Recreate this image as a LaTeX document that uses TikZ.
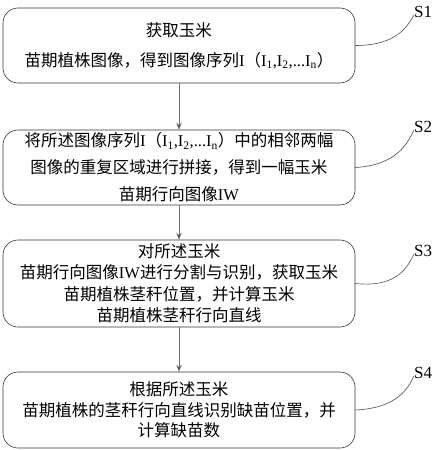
\documentclass[tikz,border=0pt]{standalone}
\usepackage{fontspec}
\setmainfont{Liberation Serif}
\newfontfamily\cjk{Noto Sans CJK SC}
\usetikzlibrary{arrows.meta}
\newcommand\sub[1]{\textsubscript{#1}}
\begin{document}
\begin{tikzpicture}[x=1pt,y=-1pt,
  stepbox/.style={draw=black!80, line width=0.6pt, rounded corners=15pt,
    minimum width=352pt, align=center, inner sep=0pt},
  flow/.style={draw=black!55, line width=0.6pt, -{Stealth[length=7pt,width=5.5pt,fill=black!75]}},
  tag/.style={font=\fontsize{17}{17}\selectfont, anchor=west, inner sep=0pt},
  leader/.style={draw=black!70, line width=0.6pt}]
\useasboundingbox (0,0) rectangle (433,450);
\node[stepbox, minimum height=75pt, font=\fontsize{16.5}{30}\cjk] (b1) at (179,45.5)
  {获取玉米\\苗期植株图像，得到图像序列{\rmfamily I}（{\rmfamily I\sub{1},I\sub{2},...I\sub{n}}）};
\node[stepbox, minimum height=75pt, font=\fontsize{16.5}{27}\cjk] (b2) at (179,167.5)
  {将所述图像序列{\rmfamily I}（{\rmfamily I\sub{1},I\sub{2},...I\sub{n}}）中的相邻两幅\\图像的重复区域进行拼接，得到一幅玉米\\苗期行向图像{\rmfamily IW}};
\node[stepbox, minimum height=87pt, font=\fontsize{16.5}{21.5}\cjk] (b3) at (179,283.5)
  {对所述玉米\\苗期行向图像{\rmfamily IW}进行分割与识别，获取玉米\\苗期植株茎秆位置，并计算玉米\\苗期植株茎秆行向直线};
\node[stepbox, minimum height=76pt, font=\fontsize{16.5}{20.5}\cjk] (b4) at (179,410)
  {根据所述玉米\\苗期植株的茎秆行向直线识别缺苗位置，并\\计算缺苗数};
\draw[flow] (b1) -- (b2);
\draw[flow] (b2) -- (b3);
\draw[flow] (b3) -- (b4);
\node[tag] (s1) at (414,12) {S1};
\node[tag] (s2) at (414,127) {S2};
\node[tag] (s3) at (414,251) {S3};
\node[tag] (s4) at (414,373) {S4};
\draw[leader] (b1.east) .. controls (398,45.5) and (408,25) .. ([yshift=-3pt]s1.west);
\draw[leader] (b2.east) .. controls (398,165) and (408,142) .. ([yshift=-3pt]s2.west);
\draw[leader] (b3.east) .. controls (398,288) and (408,266) .. ([yshift=-3pt]s3.west);
\draw[leader] (b4.east) .. controls (398,408) and (408,388) .. ([yshift=-3pt]s4.west);
\end{tikzpicture}
\end{document}
